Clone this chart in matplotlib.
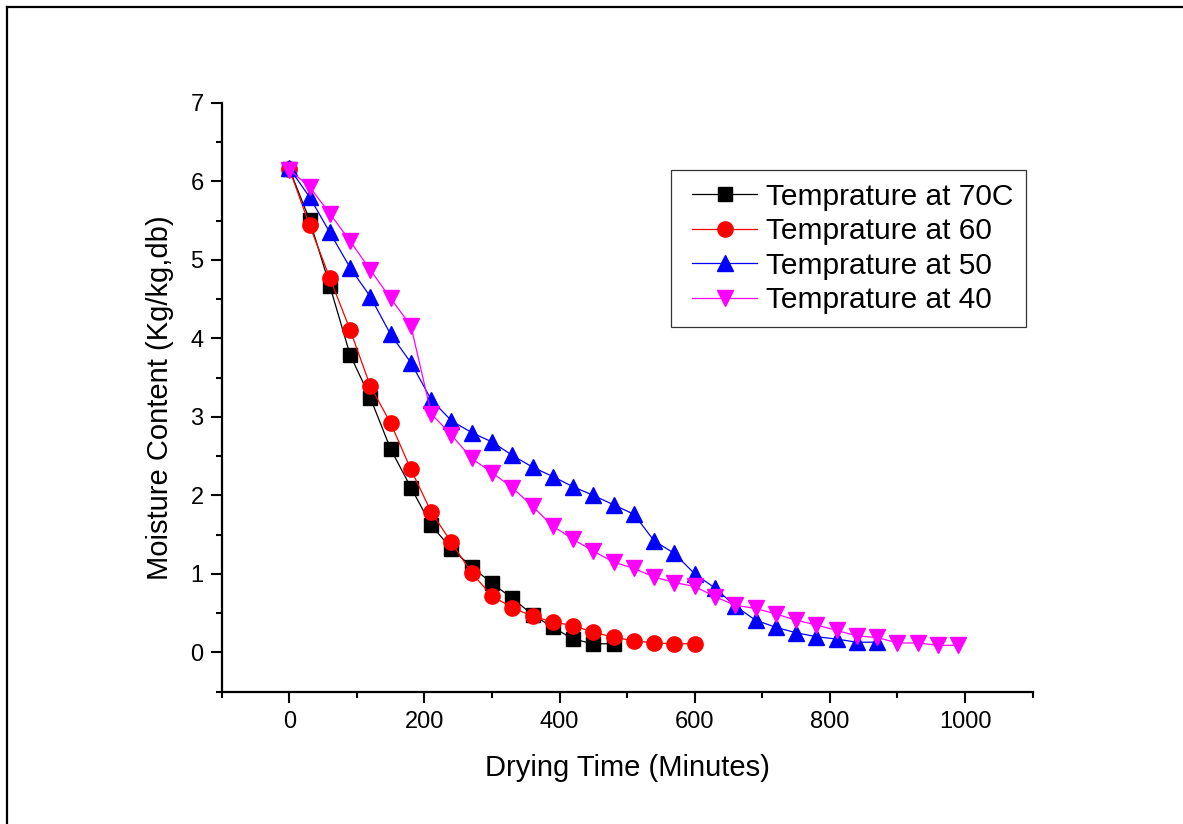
import matplotlib
matplotlib.use("Agg")
import matplotlib.pyplot as plt
from matplotlib.lines import Line2D
from matplotlib.legend_handler import HandlerLine2D
from matplotlib.ticker import MultipleLocator

plt.rcParams['font.family'] = ['Liberation Sans', 'DejaVu Sans']

# drying time (minutes), one reading every 30 min
time_70 = [0, 30, 60, 90, 120, 150, 180, 210, 240, 270, 300, 330, 360, 390, 420, 450, 480]
time_60 = time_70 + [510, 540, 570, 600]
time_50 = time_60 + [630, 660, 690, 720, 750, 780, 810, 840, 870]
time_40 = time_50 + [900, 930, 960, 990]

# moisture content (kg/kg, db)
mc_70 = [6.16, 5.51, 4.67, 3.79, 3.24, 2.59, 2.10, 1.62, 1.32, 1.09, 0.88, 0.69, 0.48,
         0.32, 0.17, 0.11, 0.11]
mc_60 = [6.16, 5.44, 4.77, 4.11, 3.39, 2.92, 2.33, 1.79, 1.40, 1.01, 0.72, 0.57, 0.46,
         0.39, 0.34, 0.26, 0.19, 0.15, 0.12, 0.11, 0.11]
mc_50 = [6.17, 5.80, 5.35, 4.90, 4.53, 4.05, 3.69, 3.22, 2.95, 2.80, 2.68, 2.51, 2.36,
         2.24, 2.11, 2.00, 1.88, 1.76, 1.42, 1.26, 1.00, 0.82, 0.59, 0.41, 0.32, 0.25,
         0.20, 0.17, 0.13, 0.13]
mc_40 = [6.15, 5.93, 5.59, 5.24, 4.87, 4.51, 4.16, 3.04, 2.77, 2.47, 2.29, 2.10, 1.86,
         1.61, 1.44, 1.29, 1.15, 1.07, 0.96, 0.89, 0.84, 0.71, 0.60, 0.56, 0.49, 0.41,
         0.35, 0.28, 0.21, 0.19, 0.12, 0.12, 0.09, 0.09]

labels = ['Temprature at 70C', 'Temprature at 60', 'Temprature at 50', 'Temprature at 40']

fig = plt.figure(figsize=(11.83, 8.24), dpi=100)
ax = fig.add_axes([0.1874, 0.1606, 0.6855, 0.7146])

ax.plot(time_70, mc_70, color='black', lw=0.9, marker='s', ms=9.5, label=labels[0])
ax.plot(time_60, mc_60, color='red', lw=0.9, marker='o', ms=11, label=labels[1])
ax.plot(time_50, mc_50, color='blue', lw=0.9, marker='^', ms=11.5, label=labels[2])
ax.plot(time_40, mc_40, color='magenta', lw=0.9, marker='v', ms=11.5, label=labels[3])

ax.set_xlim(-100, 1100)
ax.set_ylim(-0.5, 7)
# labelled ticks only from 0 up, like the original
ax.set_xticks([0, 200, 400, 600, 800, 1000])
ax.set_yticks([0, 1, 2, 3, 4, 5, 6, 7])
ax.xaxis.set_minor_locator(MultipleLocator(100))
ax.yaxis.set_minor_locator(MultipleLocator(0.5))

ax.spines['top'].set_visible(False)
ax.spines['right'].set_visible(False)
ax.spines['left'].set_linewidth(1.6)
ax.spines['bottom'].set_linewidth(1.6)
ax.tick_params(which='major', direction='out', length=8, width=1.5, labelsize=17)
ax.tick_params(axis='x', which='major', pad=6)
ax.tick_params(axis='y', which='major', pad=5)
ax.tick_params(which='minor', direction='out', length=4, width=1.5)

ax.set_xlabel('Drying Time (Minutes)', fontsize=21, labelpad=15)
ax.set_ylabel('Moisture Content (Kg/kg,db)', fontsize=21, labelpad=12)

# xpad leaves some room left of the sample lines, as in the original box
leg = ax.legend(loc='upper left', bbox_to_anchor=(0.554, 0.886), borderaxespad=0,
                fontsize=21.5, frameon=True, fancybox=False, handlelength=2.45,
                labelspacing=0.22, handletextpad=0.3, borderpad=0.42,
                handler_map={Line2D: HandlerLine2D(xpad=0.3)})
leg.get_frame().set_edgecolor('black')
leg.get_frame().set_linewidth(0.9)

# page frame (top and left edges only)
fig.add_artist(Line2D([7 / 1183, 1], [1 - 7 / 824, 1 - 7 / 824], color='black', lw=1.6,
                      transform=fig.transFigure))
fig.add_artist(Line2D([7 / 1183, 7 / 1183], [0, 1 - 7 / 824], color='black', lw=1.6,
                      transform=fig.transFigure))

fig.savefig('out.png', dpi=100)
